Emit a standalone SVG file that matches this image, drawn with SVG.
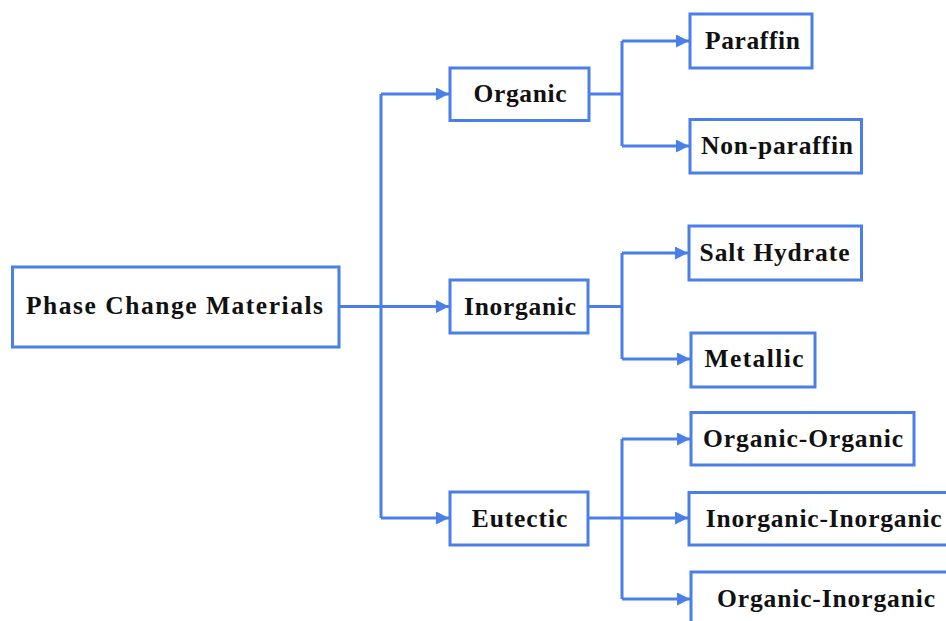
<svg xmlns="http://www.w3.org/2000/svg" width="946" height="621" viewBox="0 0 946 621">
<style>
.box{fill:#fff;stroke:#4a7ee8;stroke-width:3}
.ln{fill:none;stroke:#4a7ee8;stroke-width:3}
.t{font-family:'Liberation Serif','DejaVu Serif',serif;font-weight:700;font-size:25.5px;fill:#111}
</style>
<defs>
<marker id="ah" markerUnits="userSpaceOnUse" markerWidth="14" markerHeight="14" refX="13" refY="6.5" orient="auto">
<path d="M0,0 L13,6.5 L0,13 Z" fill="#4a7ee8"/>
</marker>
</defs>
<rect width="946" height="621" fill="#fff"/>
<g id="connectors">
<path class="ln" d="M339,306.5 H381"/>
<path class="ln" d="M381,94 V518"/>
<path class="ln" d="M381,94 H449" marker-end="url(#ah)"/>
<path class="ln" d="M381,306.5 H449" marker-end="url(#ah)"/>
<path class="ln" d="M381,518 H449" marker-end="url(#ah)"/>
<path class="ln" d="M589,94 H622"/>
<path class="ln" d="M622,41 V146"/>
<path class="ln" d="M622,41 H689" marker-end="url(#ah)"/>
<path class="ln" d="M622,146 H689" marker-end="url(#ah)"/>
<path class="ln" d="M588,306.5 H622"/>
<path class="ln" d="M622,253 V359"/>
<path class="ln" d="M622,253 H688" marker-end="url(#ah)"/>
<path class="ln" d="M622,359 H690" marker-end="url(#ah)"/>
<path class="ln" d="M588,518 H622"/>
<path class="ln" d="M622,439 V599"/>
<path class="ln" d="M622,439 H690" marker-end="url(#ah)"/>
<path class="ln" d="M622,518 H688" marker-end="url(#ah)"/>
<path class="ln" d="M622,599 H690" marker-end="url(#ah)"/>
</g>
<g id="pcm"><rect class="box" x="12.5" y="267" width="326.5" height="80"/><text class="t" x="174.5" y="314" text-anchor="middle" textLength="297" lengthAdjust="spacing">Phase Change Materials</text></g>
<g id="organic"><rect class="box" x="450" y="68" width="139" height="52.5"/><text class="t" x="520" y="102" text-anchor="middle" textLength="93" lengthAdjust="spacing">Organic</text></g>
<g id="paraffin"><rect class="box" x="690" y="14" width="122" height="54"/><text class="t" x="752.5" y="49" text-anchor="middle" textLength="95" lengthAdjust="spacing">Paraffin</text></g>
<g id="nonparaffin"><rect class="box" x="690" y="119.5" width="171.5" height="53.5"/><text class="t" x="777" y="154" text-anchor="middle" textLength="152" lengthAdjust="spacing">Non-paraffin</text></g>
<g id="inorganic"><rect class="box" x="450" y="280" width="138" height="53"/><text class="t" x="520" y="314.5" text-anchor="middle" textLength="112" lengthAdjust="spacing">Inorganic</text></g>
<g id="salthydrate"><rect class="box" x="689" y="226" width="172.5" height="54"/><text class="t" x="774.5" y="261" text-anchor="middle" textLength="150" lengthAdjust="spacing">Salt Hydrate</text></g>
<g id="metallic"><rect class="box" x="691" y="333" width="124" height="54"/><text class="t" x="754" y="367" text-anchor="middle" textLength="99" lengthAdjust="spacing">Metallic</text></g>
<g id="eutectic"><rect class="box" x="450" y="492" width="138" height="53"/><text class="t" x="519.5" y="526.5" text-anchor="middle" textLength="95.5" lengthAdjust="spacing">Eutectic</text></g>
<g id="orgorg"><rect class="box" x="691" y="412.5" width="223" height="52.5"/><text class="t" x="803" y="446.5" text-anchor="middle" textLength="200" lengthAdjust="spacing">Organic-Organic</text></g>
<g id="inoino"><rect class="box" x="689" y="492.5" width="270" height="52.5"/><text class="t" x="823.7" y="526.5" text-anchor="middle" textLength="236" lengthAdjust="spacing">Inorganic-Inorganic</text></g>
<g id="orgino"><rect class="box" x="691" y="572" width="270" height="70"/><text class="t" x="826" y="606.5" text-anchor="middle" textLength="218" lengthAdjust="spacing">Organic-Inorganic</text></g>
</svg>
